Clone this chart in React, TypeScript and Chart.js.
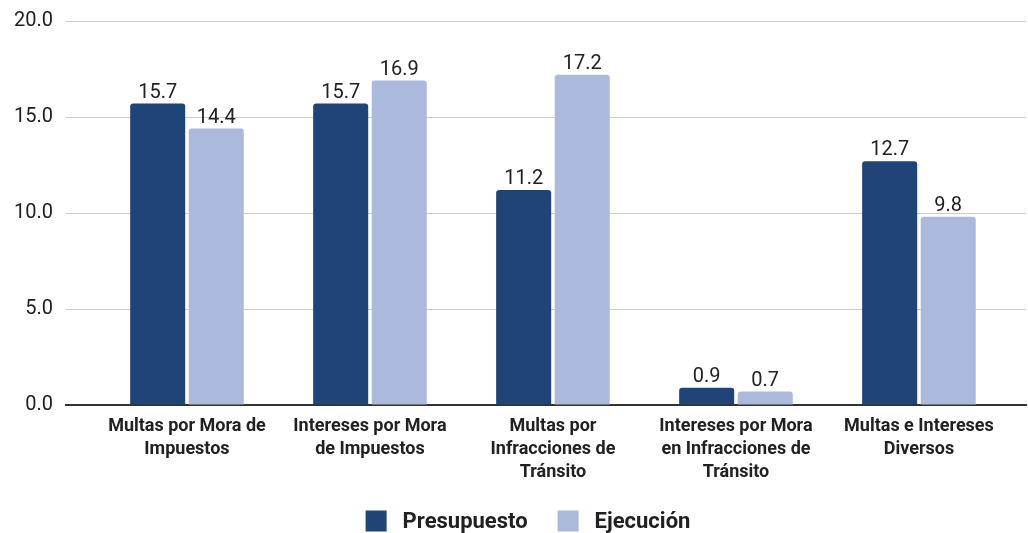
import React, { useEffect, useRef } from 'react';
import { Chart, registerables } from 'chart.js';

Chart.register(...registerables);

const categories: string[][] = [
  ['Multas por Mora de', 'Impuestos'],
  ['Intereses por Mora', 'de Impuestos'],
  ['Multas por', 'Infracciones de', 'Tránsito'],
  ['Intereses por Mora', 'en Infracciones de', 'Tránsito'],
  ['Multas e Intereses', 'Diversos'],
];
const seriesNames = ['Presupuesto', 'Ejecución'];
const presupuesto = [15.7, 15.7, 11.2, 0.9, 12.7];
const ejecucion = [14.4, 16.9, 17.2, 0.7, 9.8];
const yTickValues = [0, 5, 10, 15, 20];

const DARK = '#1f4477';
const LIGHT = '#abb9dd';
const TEXT = '#212121';
const FONT = 'Roboto, "Noto Sans", sans-serif';

const valueLabels = {
  id: 'valueLabels',
  afterDatasetsDraw(chart: any) {
    const ctx = chart.ctx;
    ctx.save();
    ctx.font = `20px ${FONT}`;
    ctx.fillStyle = TEXT;
    ctx.textAlign = 'center';
    ctx.textBaseline = 'alphabetic';
    chart.data.datasets.forEach((ds: any, di: number) => {
      const meta = chart.getDatasetMeta(di);
      meta.data.forEach((el: any, i: number) => {
        const v = ds.data[i].y;
        ctx.fillText(v.toFixed(1), el.x, el.y - 6);
      });
    });
    ctx.restore();
  },
};

const customLegend = {
  id: 'customLegend',
  afterDraw(chart: any) {
    const ctx = chart.ctx;
    ctx.save();
    ctx.font = `bold 22px ${FONT}`;
    ctx.textBaseline = 'middle';
    ctx.textAlign = 'left';
    const box = 21;
    const gap = 16;
    const itemGap = 30;
    const items = chart.data.datasets.map((ds: any) => ({
      label: ds.label,
      color: ds.backgroundColor,
      w: ctx.measureText(ds.label).width,
    }));
    const total = items.reduce((s: number, it: any) => s + box + gap + it.w, 0) + itemGap * (items.length - 1);
    let x = (chart.chartArea.left + chart.chartArea.right) / 2 - 18 - total / 2;
    const cy = 521;
    items.forEach((it: any) => {
      ctx.fillStyle = it.color;
      ctx.fillRect(x, cy - box / 2, box, box);
      x += box + gap;
      ctx.fillStyle = TEXT;
      ctx.fillText(it.label, x, cy + 1);
      x += it.w + itemGap;
    });
    ctx.restore();
  },
};

export default function App() {
  const ref = useRef<HTMLCanvasElement | null>(null);
  useEffect(() => {
    if (!ref.current) return;
    const chart = new Chart(ref.current, {
      type: 'bar',
      data: {
        datasets: [
          {
            label: seriesNames[0],
            data: presupuesto.map((y, i) => ({ x: i, y })),
            backgroundColor: DARK,
            borderRadius: 3,
          },
          {
            label: seriesNames[1],
            data: ejecucion.map((y, i) => ({ x: i, y })),
            backgroundColor: LIGHT,
            borderRadius: 3,
          },
        ],
      },
      options: {
        animation: false,
        responsive: false,
        maintainAspectRatio: false,
        categoryPercentage: 0.64,
        barPercentage: 0.94,
        layout: { padding: { top: 21, right: 2, left: 0, bottom: 0 } },
        plugins: {
          legend: { display: false },
          tooltip: { enabled: false },
        },
        scales: {
          x: {
            type: 'linear',
            offset: false,
            min: -0.661,
            max: 4.585,
            afterBuildTicks: (scale: any) => {
              scale.ticks = categories.map((_, i) => ({ value: i }));
            },
            afterFit: (scale: any) => {
              scale.height = 128;
            },
            grid: { display: false, drawTicks: false },
            border: { display: true, color: '#333333', width: 2 },
            ticks: {
              autoSkip: false,
              maxRotation: 0,
              minRotation: 0,
              padding: 10,
              color: TEXT,
              font: { family: FONT, size: 18, weight: 'bold', lineHeight: 1.28 },
              callback: (v: any) => categories[v] ?? '',
            },
          },
          y: {
            min: 0,
            max: 20,
            afterBuildTicks: (scale: any) => {
              scale.ticks = yTickValues.map((value) => ({ value }));
            },
            afterFit: (scale: any) => {
              scale.width = 66;
              scale.paddingTop = 0;
              scale.paddingBottom = 0;
            },
            grid: {
              color: (c: any) => (c.tick && c.tick.value === 0 ? '#333333' : '#cccccc'),
              drawTicks: false,
            },
            border: { display: false },
            ticks: {
              padding: 13,
              color: TEXT,
              font: { family: FONT, size: 20 },
              callback: (v: any) => Number(v).toFixed(1),
            },
          },
        },
      },
      plugins: [valueLabels, customLegend],
    } as any);
    return () => chart.destroy();
  }, []);
  return (
    <div style={{ position: 'fixed', left: 0, top: 0, width: 1028, height: 533, background: '#fff' }}>
      <canvas ref={ref} width={1028} height={533} style={{ display: 'block' }} />
    </div>
  );
}
